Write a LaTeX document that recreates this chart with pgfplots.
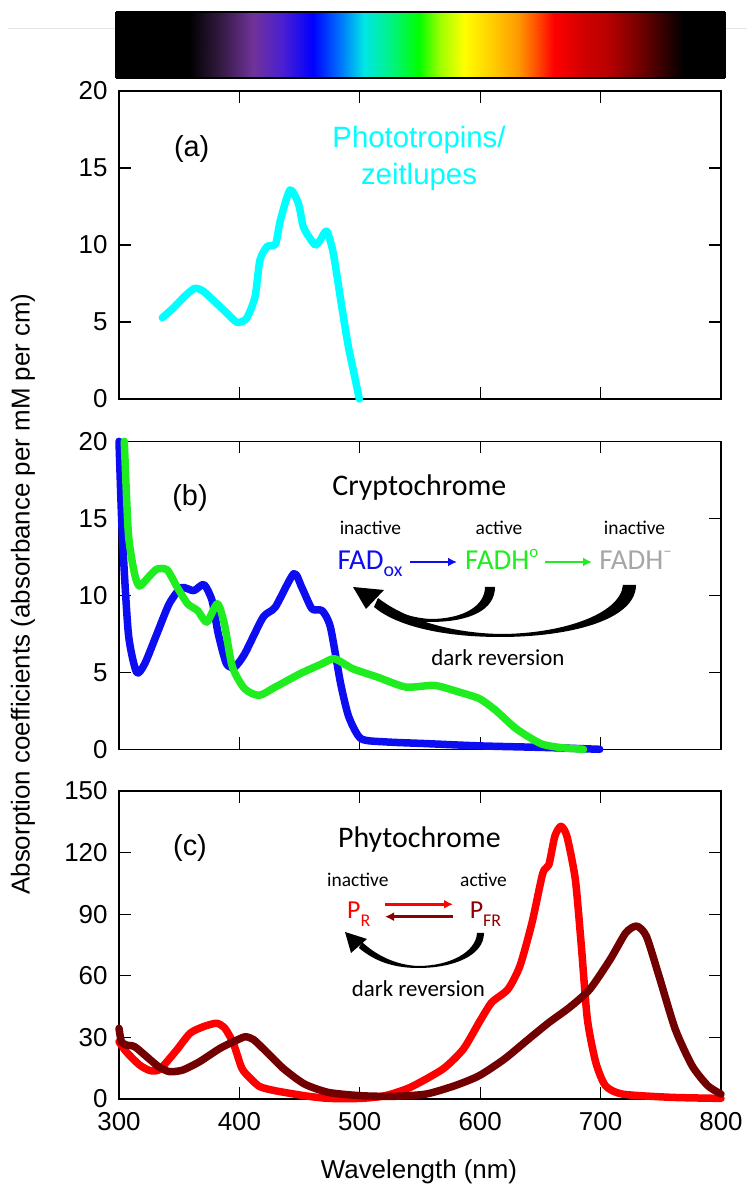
\documentclass[border=0pt]{standalone}
\usepackage{fontspec}
\setmainfont{Liberation Sans}
\newfontfamily\calibri{Carlito}
\usepackage{pgfplots}
\pgfplotsset{compat=1.18}
\usetikzlibrary{arrows.meta}

\definecolor{cpurpledark}{rgb}{0.2,0.1,0.25}
\definecolor{cpurple}{rgb}{0.44,0.2,0.6}
\definecolor{cviolet}{rgb}{0.3,0.12,0.82}
\definecolor{cazure}{rgb}{0,0.45,1}
\definecolor{ccyan}{rgb}{0,0.9,0.9}
\definecolor{cspring}{rgb}{0,0.95,0.55}
\definecolor{clime}{rgb}{0.6,1,0}
\definecolor{cgold}{rgb}{1,0.8,0}
\definecolor{corange}{rgb}{1,0.6,0}
\definecolor{cdorange}{rgb}{1,0.35,0}
\definecolor{cred2}{rgb}{0.8,0,0}
\definecolor{cred3}{rgb}{0.73,0,0}
\definecolor{cmaroon}{rgb}{0.48,0,0}
\definecolor{cdark}{rgb}{0.22,0,0}

\definecolor{phcyan}{rgb}{0,1,1}
\definecolor{fadblue}{rgb}{0.05,0.05,0.95}
\definecolor{fadgreen}{rgb}{0.12,0.93,0.12}
\definecolor{fadgray}{rgb}{0.65,0.65,0.65}
\definecolor{prred}{rgb}{1,0,0}
\definecolor{pfrred}{rgb}{0.45,0,0}
\definecolor{pfrtext}{rgb}{0.55,0,0}

\pgfplotsset{
  panel/.style={
    at={#1}, anchor=south west, scale only axis,
    width=602bp, height=308bp,
    xmin=300, xmax=800,
    xtick={300,400,...,800},
    tick align=inside, tick pos=both,
    major tick length=12bp,
    axis line style={line width=1.2bp},
    every tick/.style={black, line width=1.2bp},
    /pgf/number format/assume math mode=true,
    tick label style={font=\fontsize{26}{30}\selectfont},
    yticklabel style={xshift=-8bp},
    xticklabel style={yshift=-10bp},
    clip=false,
    every axis plot/.append style={line width=7.5bp, line cap=round, line join=round, smooth, tension=0.4},
  },
}

\begin{document}
\begin{tikzpicture}
\path[use as bounding box] (0,0) rectangle (747bp,1188bp);
\draw[black!10, line width=0.8bp] (8bp,1160bp) -- (747bp,1160bp);

% spectrum colour bar
\begin{axis}[
  at={(116bp,1110bp)}, anchor=south west, scale only axis,
  width=609bp, height=66bp,
  xmin=0, xmax=1, ymin=0, ymax=1, enlargelimits=false,
  view={0}{90}, ticks=none,
  axis line style={line width=2.5bp},
  colormap={spec}{color(0cm)=(black); color(1.2cm)=(black); color(1.71cm)=(cpurpledark);
    color(2.25cm)=(cpurple); color(2.73cm)=(cviolet); color(3.24cm)=(blue);
    color(3.68cm)=(cazure); color(4.08cm)=(ccyan); color(4.49cm)=(cspring);
    color(4.97cm)=(green); color(5.3cm)=(clime); color(5.71cm)=(yellow);
    color(6.19cm)=(cgold); color(6.6cm)=(corange); color(6.87cm)=(cdorange);
    color(7.2cm)=(red); color(7.74cm)=(cred2); color(8.07cm)=(cred3);
    color(8.55cm)=(cmaroon); color(8.97cm)=(cdark); color(9.32cm)=(black); color(10cm)=(black)},
  point meta min=0, point meta max=1,
]
\addplot3[surf, shader=interp, point meta=x, mesh/cols=22] coordinates {
(0,0,0) (0.12,0,0) (0.171,0,0) (0.225,0,0) (0.273,0,0) (0.324,0,0) (0.368,0,0) (0.408,0,0) (0.449,0,0) (0.497,0,0) (0.53,0,0)
(0.571,0,0) (0.619,0,0) (0.66,0,0) (0.687,0,0) (0.72,0,0) (0.774,0,0) (0.807,0,0) (0.855,0,0) (0.897,0,0) (0.932,0,0) (1,0,0)
(0,1,0) (0.12,1,0) (0.171,1,0) (0.225,1,0) (0.273,1,0) (0.324,1,0) (0.368,1,0) (0.408,1,0) (0.449,1,0) (0.497,1,0) (0.53,1,0)
(0.571,1,0) (0.619,1,0) (0.66,1,0) (0.687,1,0) (0.72,1,0) (0.774,1,0) (0.807,1,0) (0.855,1,0) (0.897,1,0) (0.932,1,0) (1,1,0)
};
\end{axis}

% panel (a)
\begin{axis}[panel={(119bp,789bp)}, ymin=0, ymax=20, ytick={0,5,...,20}, xticklabels={}]
\addplot[phcyan] coordinates {
(336,5.28) (345,5.9) (355,6.7) (363,7.19) (370,7.0) (378,6.43) (388,5.7) (398,4.98) (406,5.24)
(413,6.64) (417,9.0) (423,9.9) (430,10.06) (434,11.6) (442,13.57) (449,12.7) (453,11.2) (458,10.5)
(463,10.0) (467,10.3) (472.5,10.9) (478,9.46) (485,6.0) (490.5,3.4) (494.6,1.88) (499.6,0)
};
\end{axis}

% panel (b)
\begin{axis}[panel={(119bp,438.7bp)}, ymin=0, ymax=20, ytick={0,5,...,20}, xticklabels={}]
\addplot[fadblue] coordinates {
(300,20) (302.7,14) (307.8,7.5) (314.6,5.0) (321.4,5.56) (331.5,7.5) (341.7,9.45) (351.9,10.5)
(362,10.3) (370.5,10.7) (377.3,9.66) (382.4,7.5) (389.2,5.56) (396,5.34) (404.4,6.2) (419.7,8.58)
(429.8,9.23) (445.1,11.4) (451.9,10.5) (460.3,9.12) (468.8,9.0) (475.6,7.93) (484.1,4.26)
(490.9,2.1) (501,0.69) (521.4,0.48) (555,0.37) (600,0.22) (657,0.11) (699.3,0.0)
};
\addplot[fadgreen] coordinates {
(304.4,20) (307.8,14) (312.9,11.4) (317,10.6) (324.7,11.2) (331.5,11.7) (340,11.65) (348.5,10.5)
(357,9.45) (365.4,9.0) (372.9,8.26) (381.7,9.45) (387.5,8.15) (394.2,5.34) (404.4,3.93) (416.3,3.5)
(429.8,4.04) (450.2,4.9) (468.8,5.56) (479,5.88) (494.2,5.23) (514.6,4.69) (538.3,4.04) (562,4.15)
(582.4,3.72) (599.3,3.29) (612.9,2.53) (629.8,1.34) (650.2,0.37) (667.1,0.11) (685.8,0.0)
};
\end{axis}

% panel (c)
\begin{axis}[panel={(119bp,89bp)}, ymin=0, ymax=150, ytick={0,30,...,150}]
\addplot[prred] coordinates {
(300,27.9) (306,23.0) (317,16.6) (326,13.8) (334,14.5) (348,23.9) (359,32.0) (370,35.2) (381,36.9)
(388,34.4) (395,27.1) (402,15.0) (409,10.1) (417,6.0) (430,4.0) (454,1.6) (474,0.3) (501,0.3)
(521,1.6) (542,5.7) (569,14.6) (586,24.3) (599,37.2) (609.5,47) (623,53.4) (633,64.8) (643,85.8)
(652,110) (657,114) (662,128) (667,132.8) (672,128) (679,107) (684,74.5) (689,38.9) (696,17.8)
(704,6.5) (718,2.4) (759,0.8) (800,0.3)
};
\addplot[pfrred] coordinates {
(300,34.4) (302,27.9) (306,26.3) (313,25.5) (323,20.6) (333,15.7) (342,13.3) (353,14.1) (367,18.2)
(384,24.7) (398,28.7) (405,30.3) (412,28.8) (425,21.5) (437,14.6) (454,7.3) (474,3.2) (501,1.6)
(528,1.3) (555,2.4) (579,6.5) (599,11.3) (620,19.4) (640,29.1) (657,37.2) (674,44.5) (691,53.4)
(708,68) (721,81) (730,84.2) (738,79.3) (748.5,59.9) (762,34) (776,16.2) (789,6.5) (800,2.4)
};
\end{axis}

% annotations in image pixel coordinates
\begin{scope}[x=1bp, y=-1bp, yshift=1188bp]
\node[rotate=90, font=\fontsize{26}{30}\selectfont] at (23,594) {Absorption coefficients (absorbance per mM per cm)};
\node[font=\fontsize{26}{30}\selectfont] at (419,1172) {Wavelength (nm)};

\node[font=\fontsize{29}{34}\selectfont] at (191.7,149) {(a)};
\node[font=\fontsize{29}{34}\selectfont] at (190,498.5) {(b)};
\node[font=\fontsize{29}{34}\selectfont] at (190,848) {(c)};

\node[anchor=base, text=phcyan, font=\fontsize{29.5}{34}\selectfont] at (419,148) {Phototropins/};
\node[anchor=base, text=phcyan, font=\fontsize{29.5}{34}\selectfont] at (419,185) {zeitlupes};

% cryptochrome scheme
\node[font=\calibri\fontsize{30}{36}\selectfont] at (419.4,487.7) {Cryptochrome};
\node[font=\calibri\fontsize{19.5}{24}\selectfont] at (370.4,528) {inactive};
\node[font=\calibri\fontsize{19.5}{24}\selectfont] at (499,528) {active};
\node[font=\calibri\fontsize{19.5}{24}\selectfont] at (634.5,528) {inactive};
\node[anchor=base, text=fadblue, font=\calibri\fontsize{29}{34}\selectfont] at (370,570) {FAD\raisebox{-0.22em}{\fontsize{20}{20}\selectfont ox}};
\node[anchor=base, text=fadgreen, font=\calibri\fontsize{29}{34}\selectfont] at (501.7,570) {FADH\raisebox{0.42em}{\fontsize{17}{17}\selectfont o}};
\node[anchor=base, text=fadgray, font=\calibri\fontsize{29}{34}\selectfont] at (635.6,570) {FADH\raisebox{0.45em}{\fontsize{17}{17}\selectfont –}};
\draw[fadblue, line width=2.5bp, -{Latex[length=9bp,width=9bp]}] (410,562) -- (457,562);
\draw[fadgreen, line width=2.5bp, -{Latex[length=9bp,width=9bp]}] (545,562) -- (592,562);
% dark-reversion arrows
\fill[black] (636,585) .. controls (636,620) and (570,637) .. (500,637)
  .. controls (440,637) and (395,625) .. (374,607)
  -- (378,598) .. controls (405,619) and (450,633) .. (500,634)
  .. controls (560,634) and (620,615) .. (623,585) -- cycle;
\fill[black] (495,587) .. controls (495,610) and (470,622) .. (430,622)
  .. controls (410,622) and (395,618) .. (380,610)
  -- (382,605) .. controls (400,614) and (415,618) .. (430,619)
  .. controls (465,619) and (485,605) .. (485,587) -- cycle;
\fill[black] (353,587) -- (366,609) -- (384,590) -- cycle;
\node[font=\calibri\fontsize{23}{28}\selectfont] at (497.8,658) {dark reversion};

% phytochrome scheme
\node[font=\calibri\fontsize{30}{36}\selectfont] at (419.4,839.6) {Phytochrome};
\node[font=\calibri\fontsize{19.5}{24}\selectfont] at (357.8,879.5) {inactive};
\node[font=\calibri\fontsize{19.5}{24}\selectfont] at (483.5,879.5) {active};
\node[anchor=base, text=prred, font=\calibri\fontsize{26}{30}\selectfont] at (358.7,918.3) {P\raisebox{-0.3em}{\fontsize{18}{18}\selectfont R}};
\node[anchor=base, text=pfrtext, font=\calibri\fontsize{26}{30}\selectfont] at (485.5,918.3) {P\raisebox{-0.3em}{\fontsize{18}{18}\selectfont FR}};
\draw[prred, line width=2.5bp, -{Latex[length=9bp,width=9bp]}] (385,904.3) -- (453,904.3);
\draw[pfrtext, line width=2.5bp, -{Latex[length=9bp,width=9bp]}] (453,916.7) -- (385,916.7);
\fill[black] (484,933) .. controls (484,955) and (455,968) .. (418,968)
  .. controls (390,968) and (372,959) .. (359,948)
  -- (362,942) .. controls (376,955) and (395,965) .. (418,966)
  .. controls (450,966) and (476,952) .. (477,933) -- cycle;
\fill[black] (345,932) -- (351,953) -- (367,939) -- cycle;
\node[font=\calibri\fontsize{23}{28}\selectfont] at (418.3,988.3) {dark reversion};
\end{scope}
\end{tikzpicture}
\end{document}
